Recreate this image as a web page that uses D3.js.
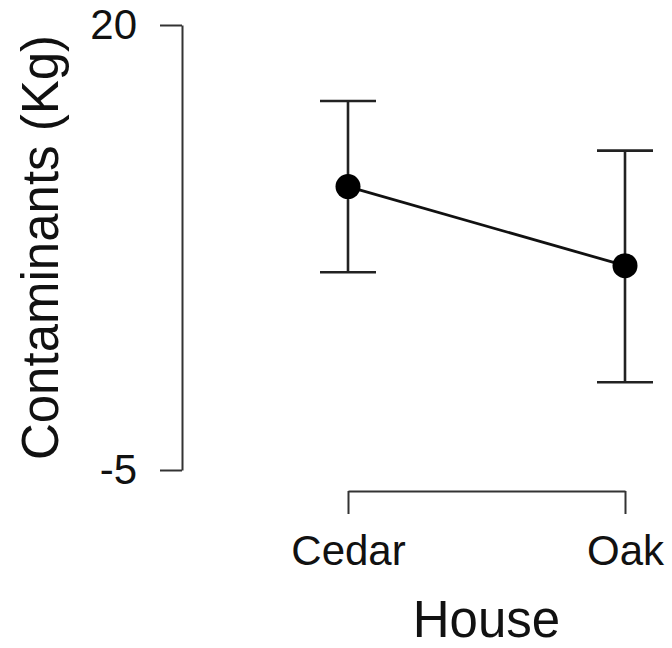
<!DOCTYPE html>
<html lang="en">
<head>
<meta charset="UTF-8" />
<title>Contaminants by House</title>
<script src="https://d3js.org/d3.v7.min.js"></script>
<style>
  body { margin: 0; background: #fff; }
  svg { display: block; font-family: "Liberation Sans", Arial, sans-serif; }
  .axis path, .axis line { stroke: #333; stroke-width: 2; }
  .axis text { font-size: 42px; fill: #111; font-family: "Liberation Sans", Arial, sans-serif; }
  .title { font-size: 51px; fill: #111; }
  .err { stroke: #222; stroke-width: 2.6; }
</style>
</head>
<body>
<div id="chart"></div>
<script>
const houses = ['Cedar', 'Oak'];
const means = [10.92, 6.48];
const lower = [6.11, -0.07];
const upper = [15.73, 12.94];
const yTicks = [-5, 20];

const width = 672, height = 648;

const svg = d3.select("#chart").append("svg")
  .attr("width", width)
  .attr("height", height);

const x = d3.scalePoint().domain(houses).range([348, 625]);
const y = d3.scaleLinear().domain([-5, 20]).range([470, 25]);

// y axis, plain hyphen for the minus sign
svg.append("g")
  .attr("class", "axis")
  .attr("transform", "translate(182,0)")
  .call(d3.axisLeft(y).tickValues(yTicks).tickFormat(d => String(d))
    .tickSize(22).tickSizeOuter(0).tickPadding(23));

// x axis (R style, below the plot)
svg.append("g")
  .attr("class", "axis")
  .attr("transform", "translate(0,491)")
  .call(d3.axisBottom(x).tickSize(23).tickSizeOuter(0).tickPadding(21));

svg.selectAll(".axis path.domain").attr("fill", "none");

// axis titles
svg.append("text")
  .attr("class", "title")
  .attr("text-anchor", "middle")
  .attr("transform", `translate(58,${(y(20) + y(-5)) / 2}) rotate(-90)`)
  .text("Contaminants (Kg)");

svg.append("text")
  .attr("class", "title")
  .attr("text-anchor", "middle")
  .attr("x", (x('Cedar') + x('Oak')) / 2)
  .attr("y", 637)
  .text("House");

const rows = houses.map((h, i) => ({ h, m: means[i], lo: lower[i], hi: upper[i] }));

// error bars
const eb = svg.append("g");
eb.selectAll(".stem").data(rows).enter().append("line")
  .attr("class", "err")
  .attr("x1", d => x(d.h)).attr("x2", d => x(d.h))
  .attr("y1", d => y(d.lo)).attr("y2", d => y(d.hi));
["lo", "hi"].forEach(k => {
  eb.selectAll(".cap-" + k).data(rows).enter().append("line")
    .attr("class", "err")
    .attr("x1", d => x(d.h) - 28).attr("x2", d => x(d.h) + 28)
    .attr("y1", d => y(d[k])).attr("y2", d => y(d[k]));
});

// mean line
svg.append("path")
  .datum(rows)
  .attr("fill", "none")
  .attr("stroke", "#111")
  .attr("stroke-width", 2.8)
  .attr("d", d3.line().x(d => x(d.h)).y(d => y(d.m)));

svg.selectAll(".pt").data(rows).enter().append("circle")
  .attr("cx", d => x(d.h))
  .attr("cy", d => y(d.m))
  .attr("r", 12.5)
  .attr("fill", "#000");
</script>
</body>
</html>
